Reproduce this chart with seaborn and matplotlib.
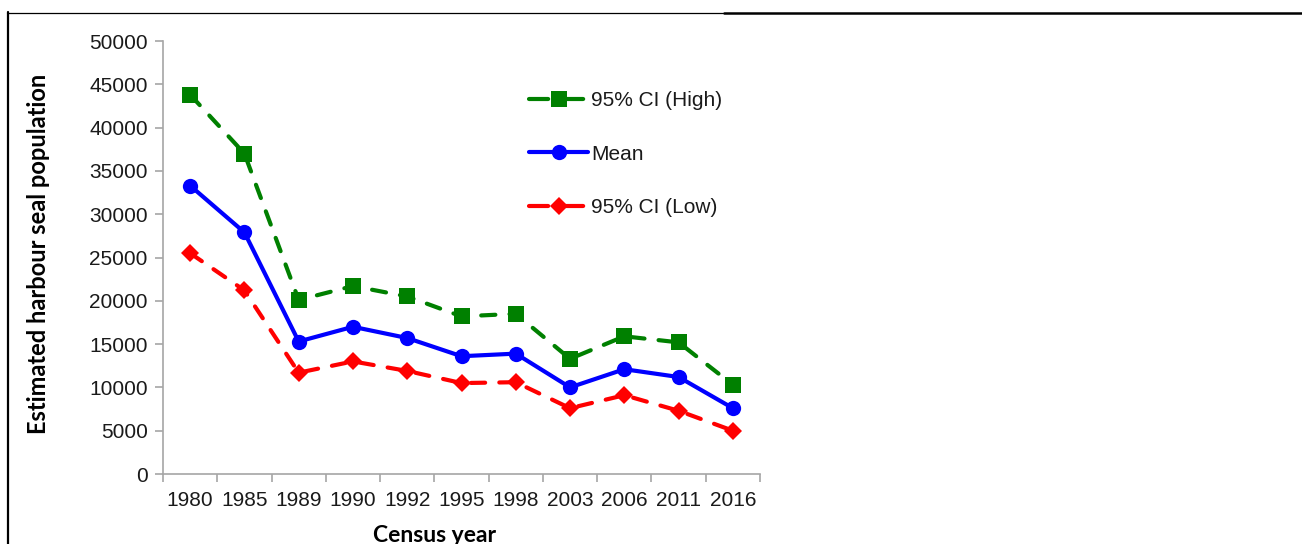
import matplotlib
matplotlib.use("Agg")
import matplotlib.pyplot as plt
from matplotlib.lines import Line2D
import numpy as np
import pandas as pd
import seaborn as sns

# Census years and harbour seal population estimates
years = ["1980", "1985", "1989", "1990", "1992", "1995", "1998", "2003", "2006", "2011", "2016"]
ci_high = [43800, 37000, 20100, 21700, 20500, 18200, 18500, 13300, 15900, 15200, 10300]
mean_est = [33300, 27900, 15300, 17000, 15700, 13600, 13900, 10000, 12100, 11200, 7600]
ci_low = [25500, 21200, 11700, 13000, 11900, 10500, 10600, 7600, 9100, 7300, 5000]

sns.set_theme(style="white")
plt.rcParams["font.family"] = ["Liberation Sans", "DejaVu Sans"]

W, H = 1302, 544
fig = plt.figure(figsize=(W / 100, H / 100), dpi=100)
x0, x1, y_top, y_bot = 163, 760, 41, 474
ax = fig.add_axes([x0 / W, 1 - y_bot / H, (x1 - x0) / W, (y_bot - y_top) / H])

pos = np.arange(len(years))
df = pd.DataFrame({"pos": pos, "high": ci_high, "mean": mean_est, "low": ci_low})

dash = (0, (3.4, 3.4))
sns.lineplot(data=df, x="pos", y="high", ax=ax, color="#008000", linewidth=3,
             linestyle=dash, dash_capstyle="round", marker="s", markersize=11,
             markeredgewidth=0, label="95% CI (High)")
sns.lineplot(data=df, x="pos", y="mean", ax=ax, color="#0000ff", linewidth=3,
             solid_capstyle="round", marker="o", markersize=11,
             markeredgewidth=0, label="Mean")
sns.lineplot(data=df, x="pos", y="low", ax=ax, color="#ff0000", linewidth=3,
             linestyle=dash, dash_capstyle="round", marker="D", markersize=9,
             markeredgewidth=0, label="95% CI (Low)")

ax.set_xlim(-0.5, len(years) - 0.5)
ax.set_ylim(0, 50000)
ax.set_yticks(np.arange(0, 50001, 5000))
ax.set_yticklabels([str(v) for v in range(0, 50001, 5000)])
ax.set_xticks(pos)
ax.set_xticklabels(years)
ax.set_xticks(np.arange(-0.5, len(years), 1.0), minor=True)

grey = "#a6a6a6"
for side in ["top", "right"]:
    ax.spines[side].set_visible(False)
for side in ["left", "bottom"]:
    ax.spines[side].set_color(grey)
    ax.spines[side].set_linewidth(1.2)

ax.tick_params(axis="y", which="major", direction="out", length=6, width=1.2,
               color=grey, left=True, labelsize=15, labelcolor="#1a1a1a", pad=5)
ax.tick_params(axis="x", which="major", length=0, labelsize=15,
               labelcolor="#1a1a1a", pad=12)
ax.tick_params(axis="x", which="minor", direction="out", length=6, width=1.2,
               color=grey, bottom=True)

ax.set_xlabel("Census year", fontsize=16.5, fontweight="bold", family="Lato",
              color="#000000")
ax.set_ylabel("Estimated harbour seal population", fontsize=17,
              fontweight="bold", family="Lato", color="#000000")
ax.xaxis.set_label_coords((435 - x0) / (x1 - x0), -(525 - y_bot) / (y_bot - y_top))
ax.yaxis.set_label_coords(-(x0 - 50) / (x1 - x0), (y_bot - 254) / (y_bot - y_top))

leg = ax.legend(loc="upper left",
                bbox_to_anchor=((521 - x0) / (x1 - x0), 1 - (83 - y_top) / (y_bot - y_top)),
                frameon=False, fontsize=15, handlelength=2.8, handletextpad=0.15,
                labelspacing=1.65, borderaxespad=0)
for t in leg.get_texts():
    t.set_color("#1a1a1a")
for ln in leg.get_lines():
    if ln.get_linestyle() not in ("-", "solid"):
        ln.set_dashes((4.6, 3.8))

# Page frame around the chart
def fx(x):
    return x / W

def fy(y):
    return 1 - y / H

fig.add_artist(Line2D([fx(7.5), fx(7.5)], [fy(12), fy(H)], color="black", linewidth=1.6))
fig.add_artist(Line2D([fx(7), fx(724)], [fy(12.5), fy(12.5)], color="black", linewidth=0.9))
fig.add_artist(Line2D([fx(724), fx(W)], [fy(13), fy(13)], color="black", linewidth=1.8))

fig.savefig("out.png", dpi=100)
